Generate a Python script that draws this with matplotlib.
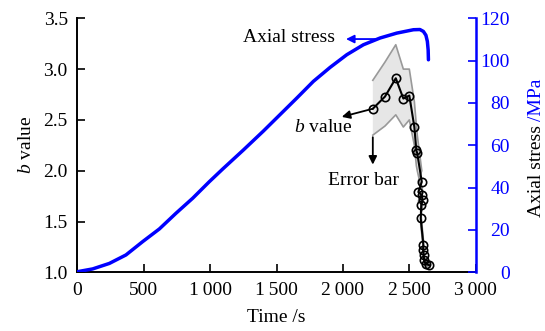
import numpy as np
import matplotlib
matplotlib.use("Agg")
import matplotlib.pyplot as plt

plt.rcParams['font.family'] = ['Liberation Serif', 'DejaVu Serif']
plt.rcParams['mathtext.fontset'] = 'custom'
plt.rcParams['mathtext.rm'] = 'Liberation Serif'
plt.rcParams['mathtext.it'] = 'Liberation Serif:italic'
plt.rcParams['font.size'] = 14

# axial stress during loading (MPa)
time_s = [0, 114, 240, 365, 491, 617, 742, 868, 993, 1094, 1250, 1400,
          1526, 1652, 1777, 1903, 2029, 2154, 2280, 2405, 2531, 2580,
          2606, 2625, 2636, 2642, 2644]
stress = [0.3, 1.6, 4.2, 8.2, 14.5, 20.5, 27.9, 35.0, 42.8, 48.8, 57.8, 66.7,
          74.5, 82.3, 90.2, 96.8, 102.8, 107.5, 110.7, 113.0, 114.6, 114.7,
          113.8, 112.0, 109.1, 105.0, 100.4]

# b value of the AE events with upper / lower bounds of the error bar
b_time = [2225, 2317, 2398, 2455, 2500, 2538, 2553, 2560, 2594, 2568,
          2594, 2600, 2590, 2586, 2606, 2604, 2608, 2612, 2622, 2652]
b_val = [2.61, 2.73, 2.91, 2.71, 2.74, 2.43, 2.20, 2.17, 1.89, 1.79,
         1.76, 1.71, 1.66, 1.53, 1.27, 1.22, 1.17, 1.12, 1.08, 1.07]
b_upper = [2.89, 3.07, 3.24, 3.00, 3.00, 2.68, 2.45, 2.35, 2.00, 1.90,
           1.85, 1.80, 1.75, 1.60, 1.32, 1.26, 1.21, 1.16, 1.11, 1.09]
b_lower = [2.35, 2.44, 2.55, 2.43, 2.50, 2.25, 2.05, 2.00, 1.80, 1.70,
           1.68, 1.63, 1.58, 1.47, 1.23, 1.18, 1.13, 1.09, 1.06, 1.05]

x_ticks = [0, 500, 1000, 1500, 2000, 2500, 3000]
x_labels = ['0', '500', '1\u2009000', '1\u2009500', '2\u2009000', '2\u2009500', '3\u2009000']
b_ticks = [1.0, 1.5, 2.0, 2.5, 3.0, 3.5]
s_ticks = [0, 20, 40, 60, 80, 100, 120]

fig = plt.figure(figsize=(5.45, 3.31), dpi=100)
ax = fig.add_axes([0.1422, 0.1773, 0.7306, 0.7674])
ax2 = ax.twinx()

# error band
bt = np.array(b_time)
ax.fill(np.concatenate([bt, bt[::-1]]),
        np.concatenate([b_upper, b_lower[::-1]]),
        color='#e6e6e6', lw=0, zorder=1)
ax.plot(b_time, b_upper, color='#999999', lw=1.2, zorder=2)
ax.plot(b_time, b_lower, color='#999999', lw=1.2, zorder=2)

# b value
ax.plot(b_time, b_val, color='black', lw=1.5, marker='o', ms=6,
        mfc='none', mec='black', mew=1.2, zorder=3)

# axial stress
ax2.plot(time_s, stress, color='blue', lw=2.5, solid_capstyle='round',
         solid_joinstyle='round')

ax.set_xlim(0, 3000)
ax.set_ylim(1.0, 3.5)
ax2.set_ylim(0, 120)

ax.set_xticks(x_ticks)
ax.set_xticklabels(x_labels)
ax.set_yticks(b_ticks)
ax.set_yticklabels([f'{v:.1f}' for v in b_ticks])
ax2.set_yticks(s_ticks)
ax2.set_yticklabels([str(v) for v in s_ticks])

ax.tick_params(direction='in', length=6, width=1.2, pad=7)
ax2.tick_params(direction='in', length=6, width=1.2, pad=24.5,
                colors='blue')
for lbl in ax2.get_yticklabels():
    lbl.set_ha('right')

for sp in ['top', 'right']:
    ax.spines[sp].set_visible(False)
for sp in ['top', 'left', 'bottom']:
    ax2.spines[sp].set_visible(False)
ax.spines['left'].set_linewidth(1.4)
ax.spines['bottom'].set_linewidth(1.4)
ax2.spines['right'].set_color('blue')
ax2.spines['right'].set_linewidth(1.8)

ax.set_xlabel('Time /s', labelpad=7)
ax.set_ylabel('$b$ value', labelpad=6)

# right axis title in two colours
fig.text(541 / 545, 1 - 217 / 331, 'Axial stress', rotation=90,
         rotation_mode='anchor', ha='left', va='baseline', color='black')
fig.text(541 / 545, 1 - 121 / 331, '/MPa', rotation=90,
         rotation_mode='anchor', ha='left', va='baseline', color='blue')

# annotations
arrow_k = dict(arrowstyle='-|>', color='black', lw=1.3, mutation_scale=12,
               shrinkA=0, shrinkB=0)
ax.annotate('', xy=(1991, 2.53), xytext=(b_time[0], b_val[0]),
            arrowprops=arrow_k, zorder=4)
ax.text(1854, 2.43, '$b$ value', ha='center', va='center')
ax.annotate('', xy=(2225, 2.06), xytext=(2225, 2.33), arrowprops=arrow_k)
ax.text(2155, 1.90, 'Error bar', ha='center', va='center')

arrow_b = dict(arrowstyle='-|>', color='blue', lw=1.3, mutation_scale=12,
               shrinkA=0, shrinkB=0)
ax2.annotate('', xy=(2023, 110.2), xytext=(2255, 110.2), arrowprops=arrow_b)
ax2.text(1594, 110.7, 'Axial stress', ha='center', va='center')

fig.savefig('out.png', dpi=100)
